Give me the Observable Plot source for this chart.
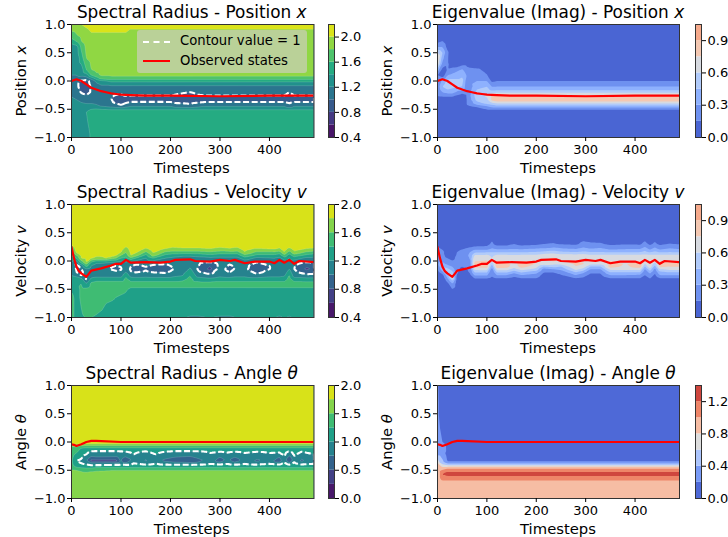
<!DOCTYPE html>
<html><head><meta charset="utf-8">
<style>
html,body{margin:0;padding:0;background:#fff;}
#stage{position:relative;width:728px;height:537px;overflow:hidden;font-family:"DejaVu Sans",sans-serif;color:#000;}
.t{position:absolute;white-space:nowrap;transform:translate(-50%,-50%);}
.title{font-size:16.9px;}
.ts{font-size:14.8px;}
.yl{font-size:14.8px;transform:translate(-50%,-50%) rotate(-90deg);}
#legend{position:absolute;left:137px;top:30px;width:170px;height:43px;background:rgba(190,208,160,.92);border-radius:3px;font-size:13.2px;}
#legend span{position:absolute;left:43px;white-space:nowrap;}
#legend i{position:absolute;left:6px;width:27px;height:0;}
</style>
<script src="https://cdn.jsdelivr.net/npm/d3@7"></script>
<script src="https://cdn.jsdelivr.net/npm/@observablehq/plot@0.6"></script>
</head><body><div id="stage"></div>
<script>
// ---- observed state lines
const posT=[0,10,20,30,40,50,60,70,80,90,100,120,150,200,300,400,490];
const posS=[0,.03,0,-.06,-.12,-.15,-.18,-.2,-.22,-.23,-.24,-.25,-.26,-.26,-.27,-.26,-.26];
const velT=[0,5,10,15,20,30,40,60,80,90,100,110,120,150,180,200,210,240,250,280,300,320,330,350,370,400,410,420,430,440,450,460,490];
const velS=[.25,.05,-.1,-.18,-.22,-.28,-.17,-.13,-.08,-.05,-.05,.02,-.03,-.02,-.03,-.01,.02,.03,0,-.01,.02,0,.02,-.04,-.01,-.01,-.04,.02,-.03,.02,-.05,0,-.02];
const angT=[0,5,10,20,30,40,50,100,490];
const angS=[-.04,-.05,-.07,-.04,0,.02,.02,0,0];

// ---- contour band levels and band colours
const lv1=[.4,.6,.8,1,1.2,1.4,1.6,1.8,2];
const lv2=[0,.15,.3,.45,.6,.75,.9];
const lv3=[.4,.6,.8,1,1.2,1.4,1.6,1.8];
const lv5=[0,.25,.5,.75,1,1.25,1.5,1.75];
const lv6=[0,.2,.4,.6,.8,1,1.2];
const warmA=["#4a65d3","#6e91f0","#8eb1fe","#b1cbfa","#d7dae0","#f4c8b2","#f6aa8c"];
const warmB=["#4e69d7","#799bf7","#acc5fd","#dddddd","#f6bda4","#ee8568","#cf463e"];

// ---- Spectral radius, position: one list per timestep column
const x1=[0,10,20,30,40,50,60,80,90,100,110,120,200,210,240,270,430,440,450,490];
const y1=[1,.9,.8,.7,.6,.4,.2,.1,.05,0,-.1,-.2,-.28,-.33,-.38,-.45,-.5,-.55,-.75,-1];
const h1=[2.1,2.03,1.96,1.93,1.9,1.88,1.86];
const h1b=[2.1,1.98,1.92,1.9,1.9,1.88,1.86];
const b1=[1.5,1.5,1.5];
const z1=[
[1.85,1.82,1.7,1.5,1.25,1.25,1.2,1.2,1.1,1.1,1.1,1.15,1.2,1.25,1.3,1.35,1.38,1.38,1.36,1.36],
[1.95,1.85,1.78,1.6,1.3,1.25,1.25,1.2,1.15,1.05,1.05,1.1,1.15,1.2,1.25,1.28,1.3,1.3,1.28,1.28],
[2,1.9,1.85,1.8,1.65,1.5,1.3,1.25,1.1,.98,.92,.98,1.1,1.15,1.2,1.25,1.3,1.32,1.3,1.3],
[2.06,1.96,1.92,1.9,1.85,1.8,1.6,1.3,1.1,.95,.9,.93,1.05,1.12,1.18,1.25,1.32,1.4,1.35,1.35],
[2.1,2.03,1.96,1.93,1.9,1.88,1.8,1.6,1.3,1.05,1.02,1.02,1.08,1.12,1.18,1.25,1.4,1.5,1.5,1.42],
[...h1,1.75,1.5,1.25,1.1,1.1,1.1,1.12,1.15,1.25,1.42,1.5,1.5,1.48],
[...h1,1.82,1.7,1.35,1.15,1.12,1.1,1.1,1.12,1.2,1.4,...b1],
[...h1,1.82,1.75,1.45,1.15,1.08,1.02,1.01,1.02,1.15,1.38,...b1],
[...h1,1.82,1.75,1.45,1.15,1.06,.96,.9,.97,1.1,1.38,...b1],
[...h1,1.82,1.75,1.45,1.15,1.06,.93,.85,.93,1.05,1.38,...b1],
[...h1,1.82,1.75,1.45,1.15,1.06,.98,.92,.98,1.15,1.38,...b1],
[...h1b,1.82,1.75,1.45,1.15,1.05,.98,.92,1.02,1.2,1.38,...b1],
[...h1b,1.82,1.75,1.45,1.15,1.05,.98,.91,1.02,1.2,1.38,...b1],
[...h1b,1.82,1.75,1.45,1.15,1.03,.97,.88,.98,1.12,1.38,...b1],
[...h1b,1.82,1.75,1.45,1.15,.995,.95,.83,.96,1.06,1.38,...b1],
[...h1b,1.82,1.75,1.45,1.15,1.05,.98,.91,1.02,1.2,1.38,...b1],
[...h1b,1.82,1.75,1.45,1.15,1.05,.98,.91,1.02,1.2,1.38,...b1],
[...h1b,1.82,1.75,1.45,1.15,1.0,.95,.85,.97,1.08,1.38,...b1],
[...h1b,1.82,1.75,1.45,1.15,1.05,.98,.91,1.02,1.2,1.38,...b1],
[...h1b,1.82,1.75,1.45,1.15,1.05,.98,.91,1.02,1.2,1.38,...b1]
];

// ---- Eigenvalue imag, position
const x2=[0,10,20,30,50,60,80,100,110,120,490];
const y2=[1,.75,.7,.6,.5,.4,.3,.2,.1,0,-.1,-.15,-.2,-.24,-.27,-.34,-.38,-.42,-.46,-.5,-.55,-1];
const z2=[
[.05,.05,.1,.3,.6,.8,.7,.4,.15,.12,.2,.2,.2,.18,.15,.05,.05,.05,.05,.05,.05,.05],
[.05,.1,.16,.3,.45,.35,.25,.1,.05,.35,.45,.4,.3,.2,.16,.05,.05,.05,.05,.05,.05,.05],
[.05,.05,.05,.1,.18,.17,.17,.16,.3,.5,.55,.45,.35,.25,.16,.05,.05,.05,.05,.05,.05,.05],
[.05,.05,.05,.05,.05,.05,.1,.18,.35,.5,.5,.42,.35,.25,.16,.05,.05,.05,.05,.05,.05,.05],
[.05,.05,.05,.05,.05,.05,.1,.32,.42,.5,.45,.35,.2,.12,.05,.05,.05,.05,.05,.05,.05,.05],
[.05,.05,.05,.05,.05,.05,.1,.2,.28,.2,.17,.17,.17,.17,.17,.16,.16,.16,.08,.05,.05,.05],
[.05,.05,.05,.05,.05,.05,.05,.18,.25,.3,.4,.45,.5,.55,.55,.5,.4,.3,.16,.08,.05,.05],
[.05,.05,.05,.05,.05,.05,.05,.1,.16,.3,.45,.5,.55,.6,.62,.55,.55,.4,.25,.16,.05,.05],
[.05,.05,.05,.05,.05,.05,.05,.05,.06,.12,.3,.4,.55,.66,.78,.78,.62,.45,.32,.17,.05,.05],
[.05,.05,.05,.05,.05,.05,.05,.05,.08,.15,.3,.4,.58,.72,.84,.84,.68,.5,.35,.17,.05,.05],
[.05,.05,.05,.05,.05,.05,.05,.05,.08,.15,.3,.4,.58,.72,.84,.84,.68,.5,.35,.17,.05,.05]
];

// ---- Spectral radius, velocity
const x3=[0,10,20,30,40,50,70,90,100,110,120,130,150,165,190,205,225,240,255,280,300,320,335,350,375,410,420,430,440,450,475,490];
const y3=[1,.3,.25,.2,.15,.1,.05,-.02,-.08,-.14,-.2,-.26,-.32,-.4,-.5,-.6,-.75,-.95,-1];
const h3=[2,1.95];
const t3=[1.48,1.37,1.33,1.3,1.28,1.22];
const t3b=[1.48,1.37,1.33,1.3,1.25,1.15];
const z3=[
[2,1.85,1.75,1.6,1.5,1.4,1.3,1.2,1.2,1.2,1.2,1.2,1.25,1.3,1.35,1.45,1.5,1.5,1.5],
[...h3,1.9,1.88,1.82,1.6,1.4,1.1,.95,.98,1,1.15,1.3,1.35,1.3,1.3,1.3,1.3,1.3],
[...h3,1.9,1.88,1.86,1.84,1.82,1.5,1.1,1,.95,1,1.25,1.4,1.45,1.45,1.42,1.38,1.35],
[...h3,1.9,1.88,1.86,1.85,1.84,1.82,1.5,1.2,1.1,1.02,.97,1.2,1.45,1.5,1.5,1.45,1.42],
[...h3,1.9,1.88,1.86,1.84,1.82,1.4,1.2,1.12,1.1,1.1,1.25,1.45,1.5,1.5,1.5,1.45,1.4],
[...h3,1.9,1.88,1.86,1.84,1.75,1.25,1.12,1.1,1.1,1.12,1.3,1.5,1.5,1.5,1.5,1.4,1.35],
[...h3,1.9,1.88,1.86,1.84,1.8,1.25,1.05,1.02,1.05,1.12,1.3,1.5,1.5,1.5,1.4,1.33,1.3],
[...h3,1.9,1.88,1.86,1.82,1.6,1.2,1,.96,1.03,1.12,1.3,1.5,1.5,1.42,1.35,1.3,1.28],
[...h3,1.9,1.85,1.8,1.6,1.4,1.15,1.02,.98,1.05,1.12,1.3,1.5,1.45,1.4,1.33,1.3,1.28],
[2,1.9,1.8,1.7,1.6,1.5,1.35,1.2,1.12,1.15,1.2,1.35,1.45,1.5,1.42,1.38,1.33,1.3,1.28],
[...h3,1.9,1.88,1.85,1.8,1.55,1.15,1.02,.96,1.02,1.12,1.3,...t3],
[...h3,1.9,1.88,1.82,1.7,1.4,1.1,.97,.88,1,1.1,1.3,...t3],
[...h3,1.85,1.75,1.55,1.35,1.2,1.08,1.02,.97,1.04,1.12,1.3,...t3],
[...h3,1.9,1.88,1.82,1.7,1.4,1.1,.98,.88,1,1.1,1.3,...t3],
[...h3,1.88,1.75,1.55,1.35,1.2,1.05,.97,.88,.98,1.08,1.3,...t3],
[...h3,1.82,1.7,1.5,1.3,1.15,1.08,1.02,.99,1.06,1.15,1.3,...t3],
[...h3,1.85,1.72,1.5,1.25,1.1,1.05,1.1,1.12,1.15,1.2,1.35,...t3],
[...h3,1.85,1.72,1.5,1.25,1.1,1.12,1.15,1.22,1.3,1.4,1.45,...t3b],
[...h3,1.85,1.72,1.5,1.28,1.12,1.05,1.02,.99,1.04,1.12,1.3,...t3b],
[...h3,1.88,1.75,1.55,1.35,1.15,1,.82,.74,.94,1.06,1.25,...t3],
[...h3,1.82,1.7,1.5,1.3,1.15,1.08,1.05,1.08,1.1,1.15,1.3,...t3b],
[...h3,1.85,1.75,1.5,1.3,1.15,1.05,.98,.93,1,1.1,1.3,...t3b],
[...h3,1.82,1.7,1.5,1.3,1.15,1.08,1.05,1.05,1.1,1.15,1.3,...t3],
[...h3,1.9,1.85,1.78,1.55,1.3,1.1,1.05,1.05,1.1,1.15,1.3,...t3],
[...h3,1.86,1.75,1.55,1.35,1.15,1,.9,.85,.96,1.06,1.3,...t3],
[...h3,1.88,1.78,1.55,1.35,1.2,1.08,1.05,1.05,1.08,1.15,1.3,...t3],
[...h3,1.85,1.72,1.5,1.3,1.15,1.08,1.02,1.01,1.05,1.15,1.3,...t3b],
[...h3,1.9,1.88,1.78,1.55,1.3,1.1,1.05,1.05,1.1,1.18,1.3,...t3],
[...h3,1.85,1.72,1.5,1.3,1.18,1.12,1.12,1.2,1.3,1.42,1.46,...t3b],
[...h3,1.9,1.85,1.75,1.5,1.3,1.1,1.02,1,1.03,1.1,1.3,...t3],
[...h3,1.88,1.75,1.55,1.35,1.15,1,.85,.76,.92,1.06,1.28,...t3],
[...h3,1.86,1.72,1.5,1.3,1.15,1.02,.9,.85,.94,1.06,1.28,...t3]
];

// ---- Eigenvalue imag, velocity
const x4=[0,10,20,30,40,50,65,75,100,110,120,140,155,170,200,215,235,250,280,295,310,330,350,380,410,420,430,440,450,470,490];
const y4=[1,.4,.3,.25,.2,.15,.1,.05,0,-.05,-.1,-.15,-.2,-.25,-.3,-.35,-.4,-.5,-1];
const h4=[.05,.05];
const t4=[.05,.05,.05,.05];
const z4=[
[...h4,.1,.15,.2,.24,.25,.28,.28,.28,.2,.15,.1,.05,.05,...t4],
[...h4,.05,.1,.15,.2,.2,.2,.28,.35,.45,.4,.25,.1,.05,...t4],
[...h4,.05,.05,.05,.05,.1,.15,.2,.25,.4,.5,.55,.4,.3,.2,.1,.05,.05],
[...h4,.05,.05,.05,.05,.05,.1,.16,.25,.3,.4,.5,.65,.7,.45,.3,.15,.05],
[...h4,.05,.05,.12,.16,.18,.2,.2,.2,.2,.2,.17,.12,.05,...t4],
[...h4,.05,.08,.16,.2,.22,.22,.2,.18,.15,.1,.05,.05,.05,...t4],
[...h4,.05,.13,.25,.3,.32,.3,.22,.2,.18,.17,.16,.1,.05,...t4],
[...h4,.08,.16,.3,.44,.62,.7,.74,.8,.8,.64,.46,.32,.17,...t4],
[...h4,.1,.17,.3,.46,.63,.71,.76,.82,.82,.65,.46,.32,.17,...t4],
[.05,.12,.18,.25,.35,.46,.58,.6,.63,.48,.33,.22,.17,.16,.14,...t4],
[...h4,.1,.2,.32,.46,.63,.71,.76,.84,.84,.65,.46,.3,.16,...t4],
[...h4,.1,.2,.32,.46,.63,.71,.75,.82,.82,.65,.46,.3,.16,...t4],
[.05,.08,.15,.22,.33,.46,.62,.68,.7,.69,.66,.53,.35,.2,.12,...t4],
[...h4,.1,.2,.32,.46,.63,.71,.75,.82,.82,.65,.46,.3,.16,...t4],
[...h4,.12,.22,.35,.48,.63,.71,.75,.74,.66,.53,.35,.25,.16,...t4],
[.05,.1,.15,.25,.35,.52,.68,.74,.73,.69,.44,.23,.16,.08,.05,...t4],
[.05,.1,.16,.27,.4,.55,.7,.76,.76,.64,.49,.28,.16,.06,.05,...t4],
[.05,.08,.14,.25,.35,.5,.66,.71,.73,.64,.44,.33,.2,.14,.05,...t4],
[...h4,.12,.22,.33,.47,.66,.71,.75,.78,.74,.63,.45,.3,.16,...t4],
[.05,.1,.2,.28,.38,.5,.68,.72,.73,.76,.69,.53,.35,.2,.14,...t4],
[.05,.08,.18,.25,.33,.47,.63,.68,.71,.64,.44,.28,.17,.12,.05,...t4],
[.05,.08,.17,.27,.35,.47,.63,.71,.73,.64,.44,.28,.17,.12,.06,...t4],
[...h4,.12,.2,.3,.46,.63,.71,.75,.83,.83,.63,.45,.3,.16,...t4],
[...h4,.14,.22,.32,.46,.63,.68,.71,.74,.72,.63,.45,.3,.16,...t4],
[...h4,.13,.22,.33,.47,.63,.71,.75,.83,.83,.63,.45,.28,.16,...t4],
[.05,.1,.2,.3,.4,.52,.63,.71,.73,.59,.44,.28,.2,.15,.08,...t4],
[...h4,.12,.2,.3,.46,.63,.71,.75,.76,.72,.53,.35,.25,.17,...t4],
[.05,.1,.18,.28,.38,.5,.63,.68,.71,.54,.39,.23,.17,.12,.05,...t4],
[...h4,.12,.2,.3,.46,.63,.71,.75,.83,.79,.58,.4,.3,.16,...t4],
[...h4,.16,.25,.35,.47,.63,.71,.75,.77,.76,.63,.45,.3,.16,...t4],
[...h4,.14,.22,.32,.46,.63,.68,.73,.76,.76,.63,.45,.3,.16,...t4]
];

// ---- Spectral radius, angle
const x5=[0,10,20,30,40,50,90,100,110,125,150,170,190,210,240,260,280,300,315,330,350,375,400,420,430,440,450,465,490];
const y5=[1,-.02,-.05,-.08,-.12,-.17,-.22,-.28,-.33,-.38,-.42,-.46,-.5,-.55,-1];
const h5=[1.9,1.85,1.6,1.4,1.15];
const t5=[1.08,1.3,1.5,1.62,1.65];
const z5=[
[1.9,1.85,1.65,1.5,1.42,1.38,1.35,1.32,1.3,1.3,1.32,1.4,1.52,1.62,1.65],
[1.9,1.85,1.7,1.52,1.4,1.3,1.2,1.1,1,1.05,1.15,1.3,1.5,1.62,1.65],
[1.9,1.85,1.65,1.42,1.2,1.12,1.06,1.02,.95,1,1.12,1.27,1.42,1.58,1.65],
[...h5,1.08,1,.88,.78,.96,1.05,1.25,1.35,1.55,1.65],
[...h5,.98,.85,.68,.42,.88,1.02,1.25,1.4,1.6,1.65],
[...h5,.97,.88,.7,.42,.85,1.05,1.3,1.45,1.6,1.65],
[...h5,.97,.88,.68,.42,.86,...t5],
[...h5,.98,.9,.82,.78,.92,...t5],
[...h5,1,.9,.7,.45,.86,...t5],
[...h5,1.05,1,.95,.95,1,...t5],
[...h5,.98,.9,.8,.72,.92,...t5],
[...h5,1.05,1,.92,.88,1,...t5],
[...h5,1,.92,.8,.68,.92,...t5],
[...h5,.97,.88,.72,.58,.9,...t5],
[...h5,.97,.86,.68,.48,.88,...t5],
[...h5,.98,.9,.8,.7,.92,...t5],
[...h5,1.02,.98,.92,.9,.98,...t5],
[...h5,1,.9,.72,.6,.92,...t5],
[...h5,1.03,.95,.88,.86,.98,...t5],
[...h5,1,.9,.72,.58,.92,...t5],
[...h5,1.03,.97,.92,.9,.98,...t5],
[...h5,1,.92,.8,.7,.92,...t5],
[...h5,1.03,.97,.92,.88,.98,...t5],
[...h5,1.02,.95,.72,.55,.92,...t5],
[...h5,1.08,1.04,.98,.98,1.03,...t5],
[...h5,.98,.85,.62,.45,.9,...t5],
[...h5,1.08,1.04,.97,.95,1.05,...t5],
[...h5,1,.9,.8,.7,.94,...t5],
[...h5,1.08,1,.92,.88,.98,...t5]
];

// ---- Eigenvalue imag, angle
const x6=[0,5,10,20,490];
const y6=[1,.5,0,-.05,-.2,-.35,-.38,-.41,-.44,-.47,-.5,-.53,-.56,-.6,-.63,-.67,-.7,-1];
const z6=[
[.25,.25,.3,.3,.35,.75,.85,.9,.92,.93,.93,.93,.93,.93,.93,.93,.93,.9],
[.1,.15,.25,.3,.35,.55,.65,.8,.9,.95,1,1,1,1,1,.98,.92,.9],
[.1,.1,.2,.45,.3,.45,.55,.65,.8,.9,1.02,1.12,1.2,1.2,1.12,1.03,.95,.9],
[.1,.1,.1,.1,.12,.2,.4,.6,.8,1,1.12,1.2,1.3,1.2,1.12,1.03,.95,.9],
[.1,.1,.1,.1,.1,.2,.4,.6,.8,1,1.12,1.2,1.3,1.2,1.12,1.03,.95,.9]
];

// ---- axis tick lists
const timeTicks=[0,100,200,300,400];
const stateTicks=[-1,-.5,0,.5,1];

const viridisBands=n=>d3.range(n).map(i=>d3.interpolateViridis((i+.5)/n));

const panels=[
 {col:0,row:0,xs:x1,ys:y1,zs:z1,levels:lv1,colors:viridisBands(9),top:2.2,cb:[.4,.8,1.2,1.6,2],T:posT,S:posS,dash:true,title:"Spectral Radius - Position <i>x</i>",yl:"Position <i>x</i>"},
 {col:1,row:0,xs:x2,ys:y2,zs:z2,levels:lv2,colors:warmA,top:1.05,cb:[0,.3,.6,.9],T:posT,S:posS,title:"Eigenvalue (Imag) - Position <i>x</i>",yl:"Position <i>x</i>"},
 {col:0,row:1,xs:x3,ys:y3,zs:z3,levels:lv3,colors:viridisBands(8),top:2,cb:[.4,.8,1.2,1.6,2],T:velT,S:velS,dash:true,title:"Spectral Radius - Velocity <i>v</i>",yl:"Velocity <i>v</i>"},
 {col:1,row:1,xs:x4,ys:y4,zs:z4,levels:lv2,colors:warmA,top:1.05,cb:[0,.3,.6,.9],T:velT,S:velS,title:"Eigenvalue (Imag) - Velocity <i>v</i>",yl:"Velocity <i>v</i>"},
 {col:0,row:2,xs:x5,ys:y5,zs:z5,levels:lv5,colors:viridisBands(8),top:2,cb:[0,.5,1,1.5,2],T:angT,S:angS,dash:true,title:"Spectral Radius - Angle <i>θ</i>",yl:"Angle <i>θ</i>"},
 {col:1,row:2,xs:x6,ys:y6,zs:z6,levels:lv6,colors:warmB,top:1.4,cb:[0,.4,.8,1.2],T:angT,S:angS,title:"Eigenvalue (Imag) - Angle <i>θ</i>",yl:"Angle <i>θ</i>"}
];

const stage=document.getElementById("stage");
const colLeft=[70.5,437], colW=[242.5,242], rowTop=[24,204,385], frameH=113;
const cbLeft=[328,695], cbW=6;
const tickStyle={fontFamily:"DejaVu Sans",fontSize:"13px",background:"transparent",color:"#000",overflow:"visible"};

function place(svg,left,top){svg.style.position="absolute";svg.style.left=left+"px";svg.style.top=top+"px";stage.appendChild(svg);}
function label(cls,html,x,y){const d=document.createElement("div");d.className="t "+cls;d.innerHTML=html;d.style.left=x+"px";d.style.top=y+"px";stage.appendChild(d);}

for(const p of panels){
  const table=[];
  p.xs.forEach((x,i)=>p.ys.forEach((y,j)=>table.push({x,y,v:p.zs[i][j]})));
  const line=p.T.map((t,i)=>({t,s:p.S[i]}));
  const L=colLeft[p.col],W=colW[p.col],Tp=rowTop[p.row];
  const mL=60,mT=4,mB=42,mR=6;
  const seam=p.dash?{stroke:"white",strokeOpacity:.22,strokeWidth:.7,clip:"frame"}:{};
  const marks=[
    Plot.contour(table,{x:"x",y:"y",fill:"v",interpolate:"barycentric",thresholds:p.levels,pixelSize:1,smooth:true,...seam})
  ];
  if(p.dash) marks.push(Plot.contour(table,{x:"x",y:"y",value:d=>-d.v,interpolate:"barycentric",thresholds:[-1],pixelSize:1,smooth:true,fill:"none",stroke:"white",strokeWidth:2.1,strokeDasharray:"6,2.6",clip:"frame"}));
  marks.push(
    Plot.line(line,{x:"t",y:"s",stroke:"#f00",strokeWidth:2.2,clip:"frame"}),
    Plot.frame({stroke:"#333",strokeWidth:1}),
    Plot.axisX({ticks:timeTicks,tickSize:4,tickPadding:3,label:null,tickFormat:"d"}),
    Plot.axisY({ticks:stateTicks,tickSize:4,tickPadding:2,label:null,tickFormat:".1f"})
  );
  place(Plot.plot({width:mL+W+mR,height:mT+frameH+mB,marginLeft:mL,marginRight:mR,marginTop:mT,marginBottom:mB,
    x:{domain:[0,490]},y:{domain:[-1,1]},
    color:{type:"threshold",domain:p.levels.slice(1),range:p.colors},
    style:tickStyle,marks}),L-mL,Tp-mT);

  // colour bar
  const bands=p.levels.map((lo,i)=>({lo,hi:i+1<p.levels.length?p.levels[i+1]:p.top}));
  const cL=2,cR=34;
  place(Plot.plot({width:cL+cbW+cR,height:mT+frameH+12,marginLeft:cL,marginRight:cR,marginTop:mT,marginBottom:12,
    x:{domain:[0,1],axis:null},y:{domain:[p.levels[0],p.top]},
    color:{type:"threshold",domain:p.levels.slice(1),range:p.colors},
    style:tickStyle,
    marks:[
      Plot.rect(bands,{x1:()=>0,x2:()=>1,y1:"lo",y2:"hi",fill:"lo"}),
      Plot.frame({stroke:"#333",strokeWidth:1}),
      Plot.axisY({anchor:"right",ticks:p.cb,tickSize:4,tickPadding:2,label:null,tickFormat:".1f"})
    ]}),cbLeft[p.col]-cL,Tp-mT);

  const cx=L+W/2;
  label("title",p.title,cx,Tp-12);
  label("yl",p.yl,p.col?386:20,Tp+frameH/2);
  label("ts","Timesteps",cx,Tp+143);
}

// legend
const lg=document.createElement("div");lg.id="legend";
lg.innerHTML='<i style="top:10.5px;border-top:2px dashed #fff"></i><span style="top:3px">Contour value = 1</span><i style="top:30px;border-top:2px solid #f00"></i><span style="top:23px">Observed states</span>';
stage.appendChild(lg);
</script></body></html>
